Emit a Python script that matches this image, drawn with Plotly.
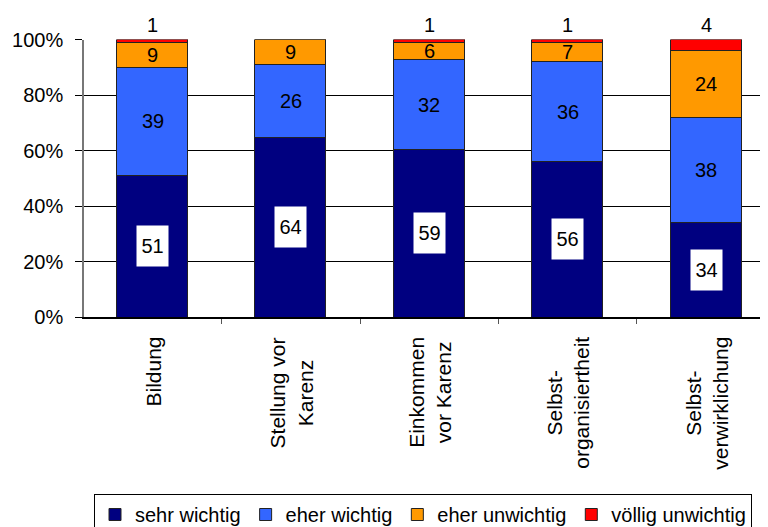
import plotly.graph_objects as go

categories = ["Bildung", "Stellung vor Karenz", "Einkommen vor Karenz",
              "Selbstorganisiertheit", "Selbstverwirklichung"]
cat_labels = ["Bildung", "Stellung vor<br>Karenz", "Einkommen<br>vor Karenz",
              "Selbst-<br>organisiertheit", "Selbst-<br>verwirklichung"]
sehr_wichtig = [51, 64, 59, 56, 34]
eher_wichtig = [39, 26, 32, 36, 38]
eher_unwichtig = [9, 9, 6, 7, 24]
voellig_unwichtig = [1, 0, 1, 1, 4]
y_ticks = [0, 20, 40, 60, 80, 100]
y_ticktext = [f"{v}%" for v in y_ticks]

series = [
    ("sehr wichtig", sehr_wichtig, "#000080"),
    ("eher wichtig", eher_wichtig, "#3366FF"),
    ("eher unwichtig", eher_unwichtig, "#FF9900"),
    ("völlig unwichtig", voellig_unwichtig, "#FF0000"),
]

# page has an 8px body margin; figure is sized to fill the rest of the window
W, H, OFF = 760, 519, 8


def fx(px):
    return (px - OFF) / W


def fy(py):
    return 1 - (py - OFF) / H


FONT = "Liberation Sans, Arial, sans-serif"
fig = go.Figure()
for name, vals, col in series:
    fig.add_trace(go.Bar(
        x=categories, y=vals, name=name, width=0.513,
        marker=dict(color=col, line=dict(color="#222222", width=1)),
        hoverinfo="skip",
    ))

totals = [sum(s[1][i] for s in series) for i in range(len(categories))]
annotations = []
for i, cat in enumerate(categories):
    base = 0.0
    for k, (name, vals, col) in enumerate(series):
        v = vals[i]
        pct = v / totals[i] * 100
        mid = base + pct / 2
        if k == 0:
            annotations.append(dict(
                x=cat, y=mid, xref="x", yref="y", text=str(v), showarrow=False,
                font=dict(size=20, color="black", family=FONT),
                bgcolor="white", width=31, height=40, borderpad=0,
                xanchor="center", yanchor="middle"))
        elif k in (1, 2):
            annotations.append(dict(
                x=cat, y=mid, xref="x", yref="y", text=str(v), showarrow=False,
                font=dict(size=20, color="black", family=FONT),
                xanchor="center", yanchor="middle"))
        else:
            if v > 0:
                annotations.append(dict(
                    x=cat, y=100, xref="x", yref="y", text=str(v), showarrow=False,
                    font=dict(size=20, color="black", family=FONT),
                    xanchor="center", yanchor="middle", yshift=15))
        base += pct
    annotations.append(dict(
        x=cat, y=fy(335), xref="x", yref="paper", text=cat_labels[i],
        showarrow=False, textangle=-90, align="center",
        font=dict(size=21, color="black", family=FONT),
        xanchor="center", yanchor="top"))

fig.update_layout(
    width=W, height=H,
    margin=dict(l=0, r=0, t=0, b=0, autoexpand=False),
    paper_bgcolor="white", plot_bgcolor="white",
    barmode="stack", barnorm="percent", bargap=0,
    font=dict(family=FONT, size=20, color="black"),
    showlegend=True,
    legend=dict(orientation="h", x=fx(94), xanchor="left",
                y=fy(494), yanchor="top",
                bordercolor="black", borderwidth=1,
                font=dict(size=20, family=FONT, color="black"),
                traceorder="normal", itemwidth=30),
    annotations=annotations,
    xaxis=dict(domain=[fx(84), 1], range=[-0.495, 4.447],
               showticklabels=False, ticks="outside", tickson="boundaries",
               ticklen=5, tickcolor="#555555", showline=True,
               linecolor="black", linewidth=1.5, showgrid=False,
               automargin=False),
    yaxis=dict(domain=[fy(317), fy(39.5)], range=[0, 100],
               tickmode="array", tickvals=y_ticks, ticktext=y_ticktext,
               ticks="outside", ticklen=7,
               tickcolor="black", showgrid=True, gridcolor="black", gridwidth=1,
               showline=True, linecolor="#777777", linewidth=1.5,
               zeroline=False, ticklabelstandoff=8, automargin=False,
               tickfont=dict(size=20, family=FONT, color="black")),
)

fig.write_html("out.html")
